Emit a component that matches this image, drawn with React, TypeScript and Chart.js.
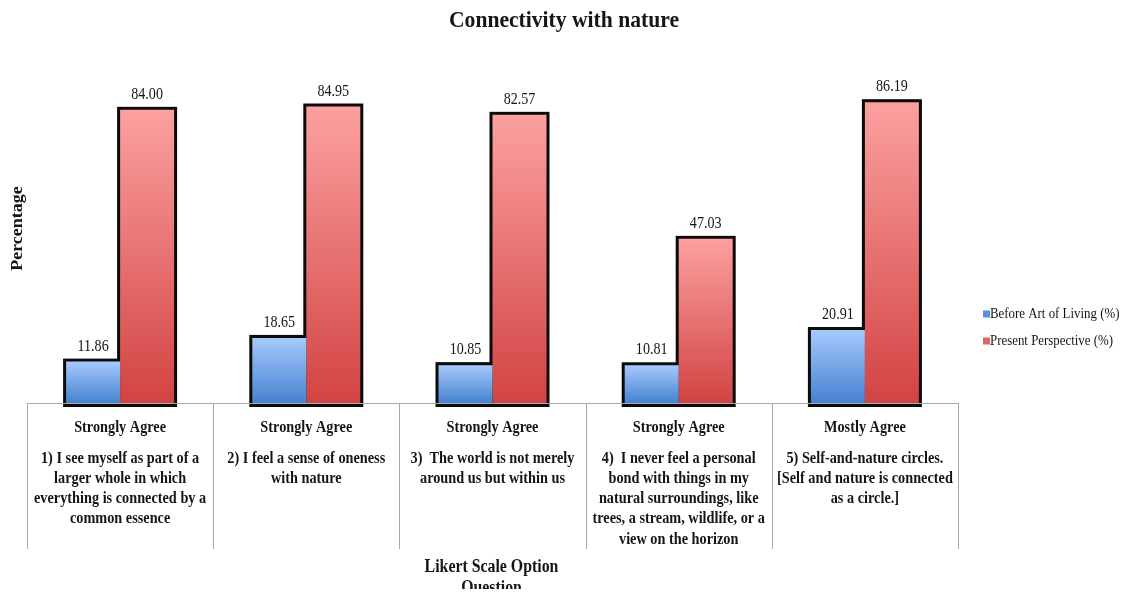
import React, { useEffect, useRef } from 'react';
import { Chart, registerables } from 'chart.js';

Chart.register(...registerables);

// Category header shown above each question
const categories = ['Strongly Agree', 'Strongly Agree', 'Strongly Agree', 'Strongly Agree', 'Mostly Agree'];

// Question text, one array of wrapped lines per category
const questions: string[][] = [
  ['1) I see myself as part of a', 'larger whole in which', 'everything is connected by a', 'common essence'],
  ['2) I feel a sense of oneness', 'with nature'],
  ['3)  The world is not merely', 'around us but within us'],
  ['4)  I never feel a personal', 'bond with things in my', 'natural surroundings, like', 'trees, a stream, wildlife, or a', 'view on the horizon'],
  ['5) Self-and-nature circles.', '[Self and nature is connected', 'as a circle.]'],
];

const seriesNames = ['Before Art of Living (%)', 'Present Perspective (%)'];
const beforeValues = [11.86, 18.65, 10.85, 10.81, 20.91];
const presentValues = [84.0, 84.95, 82.57, 47.03, 86.19];

const chartTitle = 'Connectivity with nature';
const yAxisTitle = 'Percentage';
const xAxisTitle = ['Likert Scale Option', 'Question'];

const FONT = '"Liberation Serif", "Times New Roman", serif';
const TEXT = '#151515';
const GRID = '#a9a9a9';
const CANVAS_W = 1119;
const CANVAS_H = 589;

function barGradient(top: string, bottom: string) {
  return (ctx: any) => {
    const chart = ctx.chart;
    const y = chart.scales && chart.scales.y;
    if (!y || ctx.type !== 'data') return bottom;
    const yTop = y.getPixelForValue(ctx.raw);
    const yBase = y.getPixelForValue(0);
    if (!isFinite(yTop) || !isFinite(yBase) || yTop === yBase) return bottom;
    const g = chart.ctx.createLinearGradient(0, yTop, 0, yBase);
    g.addColorStop(0, top);
    g.addColorStop(1, bottom);
    return g;
  };
}

// Draws narrow (horizontally condensed) text, optionally rotated
function drawText(
  c: CanvasRenderingContext2D,
  text: string,
  x: number,
  y: number,
  font: string,
  squeeze: number,
  align: CanvasTextAlign = 'center',
  rotate = 0
) {
  c.save();
  c.translate(x, y);
  if (rotate) {
    c.rotate(rotate);
    c.scale(1, squeeze);
  } else {
    c.scale(squeeze, 1);
  }
  c.font = font;
  c.fillStyle = TEXT;
  c.textAlign = align;
  c.textBaseline = 'middle';
  c.fillText(text, 0, 0);
  c.restore();
}

const decorPlugin = {
  id: 'decor',
  beforeDatasetsDraw(chart: any) {
    const c: CanvasRenderingContext2D = chart.ctx;
    c.save();
    c.fillStyle = '#0b0b0b';
    chart.data.datasets.forEach((_: any, di: number) => {
      chart.getDatasetMeta(di).data.forEach((bar: any) => {
        const { x, y, base, width } = bar.getProps(['x', 'y', 'base', 'width'], true);
        c.fillRect(x - width / 2 - 3, y - 3, width + 6, base - y + 7);
      });
    });
    c.restore();
  },
  afterDatasetsDraw(chart: any) {
    const c: CanvasRenderingContext2D = chart.ctx;
    const area = chart.chartArea;
    const xs = chart.scales.x;
    const n = categories.length;
    const step = (area.right - area.left) / n;
    const tableBottom = area.bottom + 146;

    // Category table under the axis
    c.save();
    c.strokeStyle = GRID;
    c.lineWidth = 1;
    c.beginPath();
    c.moveTo(area.left, area.bottom + 0.5);
    c.lineTo(area.right, area.bottom + 0.5);
    for (let i = 0; i <= n; i++) {
      const px = Math.round(area.left + i * step) + 0.5;
      c.moveTo(px, area.bottom);
      c.lineTo(px, tableBottom);
    }
    c.stroke();
    c.restore();

    // Value labels above the bars
    chart.data.datasets.forEach((ds: any, di: number) => {
      chart.getDatasetMeta(di).data.forEach((bar: any, i: number) => {
        const { x, y } = bar.getProps(['x', 'y'], true);
        drawText(c, Number(ds.data[i]).toFixed(2), x, y - 15, `16px ${FONT}`, 0.88);
      });
    });

    // Category headers and questions
    categories.forEach((cat, i) => {
      const cx = xs.getPixelForValue(i);
      drawText(c, cat, cx, area.bottom + 25, `bold 17px ${FONT}`, 0.84);
      questions[i].forEach((line, li) => {
        drawText(c, line, cx, area.bottom + 55.5 + li * 20.2, `bold 17px ${FONT}`, 0.84);
      });
    });

    // Axis titles
    const midX = (area.left + area.right) / 2;
    xAxisTitle.forEach((line, li) => {
      drawText(c, line, midX - 1, area.bottom + 164 + li * 21, `bold 18px ${FONT}`, 0.88);
    });
    drawText(c, yAxisTitle, 10, (area.top + area.bottom) / 2, `bold 18px ${FONT}`, 0.88, 'center', -Math.PI / 2);

    // Chart title, centred over the whole figure (plot + legend)
    drawText(c, chartTitle, midX + 71.5, 13, `bold 24px ${FONT}`, 0.9);

    // Legend
    const legendColors = ['#5a8fdc', '#e06464'];
    seriesNames.forEach((name, i) => {
      const ly = 306 + i * 27;
      c.fillStyle = legendColors[i];
      c.fillRect(975, ly - 3.5, 7, 7);
      drawText(c, name, 982, ly, `14px ${FONT}`, 0.92, 'left');
    });
  },
};

export default function App() {
  const ref = useRef<HTMLCanvasElement>(null);

  useEffect(() => {
    if (!ref.current) return;
    const chart = new Chart(ref.current, {
      type: 'bar',
      data: {
        labels: categories,
        datasets: [
          {
            label: seriesNames[0],
            data: beforeValues,
            backgroundColor: barGradient('#a6c9fb', '#4682d0'),
            borderWidth: 0,
          },
          {
            label: seriesNames[1],
            data: presentValues,
            backgroundColor: barGradient('#fca0a0', '#d24343'),
            borderWidth: 0,
          },
        ],
      },
      options: {
        animation: false,
        responsive: false,
        devicePixelRatio: 1,
        datasets: { bar: { categoryPercentage: 0.58, barPercentage: 1.0 } },
        layout: { padding: { left: 19, right: 169, top: 46, bottom: 194 } },
        scales: {
          x: { display: false },
          y: { display: false, min: 0, max: 100 },
        },
        plugins: {
          legend: { display: false },
          title: { display: false },
          tooltip: { enabled: false },
        },
      },
      plugins: [decorPlugin],
    });
    return () => chart.destroy();
  }, []);

  return (
    <div style={{ position: 'relative', width: 1111, height: 581, overflow: 'visible' }}>
      <canvas
        ref={ref}
        width={CANVAS_W}
        height={CANVAS_H}
        style={{ position: 'absolute', left: 0, top: 0, width: CANVAS_W, height: CANVAS_H }}
      />
    </div>
  );
}
